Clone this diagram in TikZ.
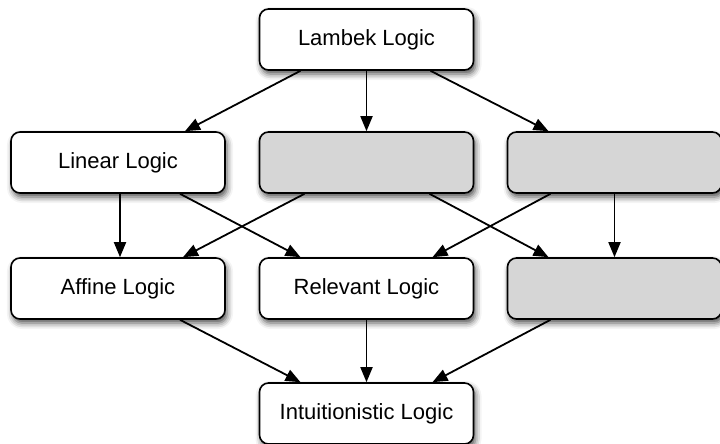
\documentclass[tikz,border=0pt]{standalone}
\usepackage{fontspec}
\setmainfont{Liberation Sans}
\usetikzlibrary{arrows.meta,shadows.blur}
\begin{document}
\begin{tikzpicture}[x=1pt,y=-1pt,
  box/.style={draw=black, line width=1.6pt, rounded corners=9pt, fill=white,
    minimum width=214pt, minimum height=61pt, inner sep=0pt, font=\fontsize{22}{26}\selectfont,
    blur shadow={shadow xshift=2pt, shadow yshift=-4pt, shadow blur radius=6pt, shadow opacity=70}},
  graybox/.style={box, fill=black!16},
  arr/.style={line width=1.8pt, -{Triangle[length=15pt,width=12pt]}}]
\useasboundingbox (0,0) rectangle (720,444);
\node[box] (lambek) at (366.5,39.5) {Lambek Logic};
\node[box] (linear) at (118,162.5) {Linear Logic};
\node[graybox] (g1) at (366.5,162.5) {};
\node[graybox] (g2) at (614.5,162.5) {};
\node[box] (affine) at (118,288.5) {Affine Logic};
\node[box] (relevant) at (366.5,288.5) {Relevant Logic};
\node[graybox] (g3) at (614.5,288.5) {};
\node[box] (intu) at (366.5,413.5) {Intuitionistic Logic};
\draw[arr] ([xshift=-66pt]lambek.south) -- ([xshift=67pt]linear.north);
\draw[arr] (lambek.south) -- (g1.north);
\draw[arr] ([xshift=64pt]lambek.south) -- ([xshift=-66pt]g2.north);
\draw[arr] ([xshift=2pt]linear.south) -- ([xshift=2pt]affine.north);
\draw[arr] ([xshift=62pt]linear.south) -- ([xshift=-66pt]relevant.north);
\draw[arr] ([xshift=-62pt]g1.south) -- ([xshift=65pt]affine.north);
\draw[arr] ([xshift=63pt]g1.south) -- ([xshift=-66pt]g3.north);
\draw[arr] ([xshift=-64pt]g2.south) -- ([xshift=66pt]relevant.north);
\draw[arr] (g2.south) -- (g3.north);
\draw[arr] ([xshift=62pt]affine.south) -- ([xshift=-66pt]intu.north);
\draw[arr] (relevant.south) -- (intu.north);
\draw[arr] ([xshift=-64pt]g3.south) -- ([xshift=66pt]intu.north);
\end{tikzpicture}
\end{document}
